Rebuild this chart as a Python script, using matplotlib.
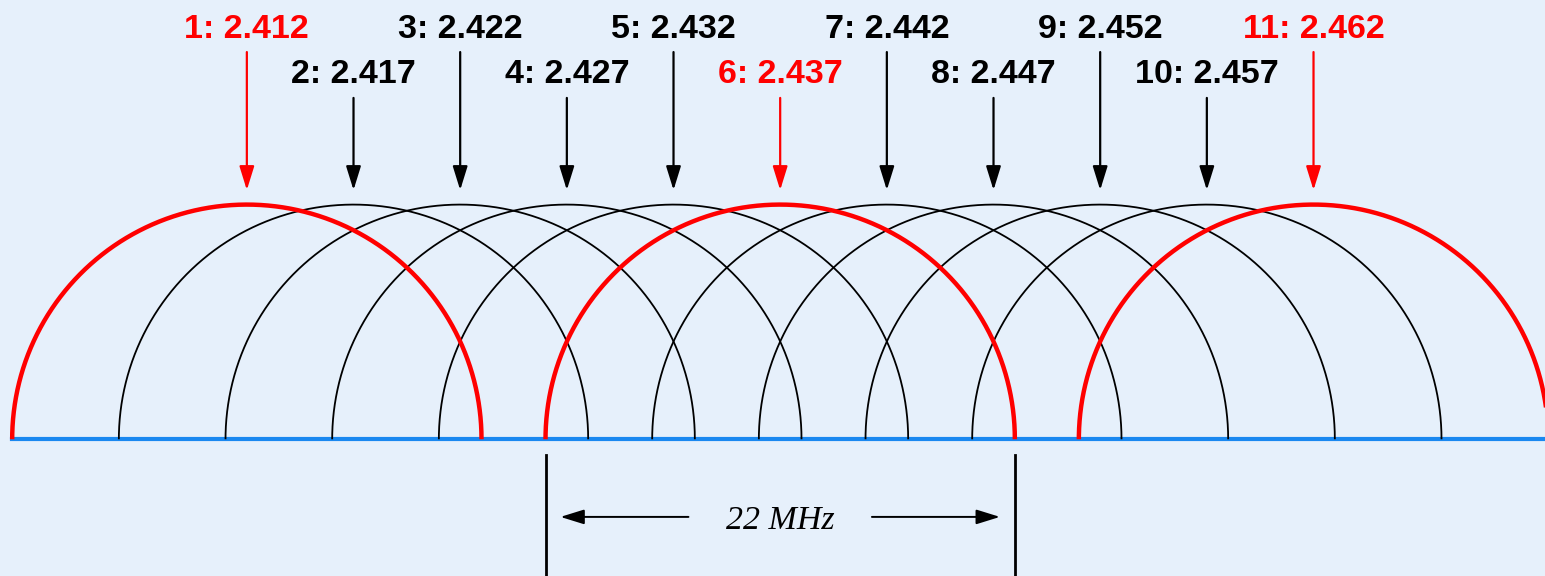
import numpy as np
import matplotlib
matplotlib.use("Agg")
import matplotlib.pyplot as plt

# 2.4 GHz wifi channels (MHz)
channels = [1, 2, 3, 4, 5, 6, 7, 8, 9, 10, 11]
centers = [2412, 2417, 2422, 2427, 2432, 2437, 2442, 2447, 2452, 2457, 2462]
labels = ["1: 2.412", "2: 2.417", "3: 2.422", "4: 2.427", "5: 2.432", "6: 2.437",
          "7: 2.442", "8: 2.447", "9: 2.452", "10: 2.457", "11: 2.462"]
highlight = [1, 6, 11]
bandwidth = 22

bg = "#e6f0fb"
fig = plt.figure(figsize=(15.45, 5.76), dpi=100, facecolor=bg)
ax = fig.add_axes([0, 0, 1, 1])
ax.set_facecolor(bg)
ax.set_xlim(2400.44, 2472.84)
ax.set_ylim(-6.41, 20.59)
ax.set_aspect("equal")
ax.axis("off")

r = bandwidth / 2
theta = np.linspace(0, np.pi, 400)
arrow_style = "-|>,head_length=1.45,head_width=0.45"

for ch, c, lab in zip(channels, centers, labels):
    red = ch in highlight
    col = "red" if red else "black"
    ax.plot(c + r * np.cos(theta), r * np.sin(theta), color=col,
            lw=3.2 if red else 1.3, zorder=4 if red else 3,
            solid_capstyle="butt")
    # label + arrow (odd channels on upper row)
    if ch % 2 == 1:
        ty, ay = 18.83, 18.15
    else:
        ty, ay = 16.68, 16.0
    ax.text(c, ty, lab, color=col, fontsize=24.5, fontweight="bold",
            family="Liberation Sans", ha="center", va="baseline")
    ax.annotate("", xy=(c, 11.68), xytext=(c, ay),
                arrowprops=dict(arrowstyle=arrow_style, mutation_scale=10,
                                color=col, lw=1.6, shrinkA=0, shrinkB=0))

# baseline
ax.plot([centers[0] - r, 2473], [0, 0], color="#1a88f0", lw=3, zorder=2)

# 22 MHz dimension
mid = centers[5]
lo, hi = mid - r, mid + r
ax.plot([lo, lo], [-0.74, -7], color="black", lw=2)
ax.plot([hi, hi], [-0.74, -7], color="black", lw=2)
dy = -3.64
ax.annotate("", xy=(lo + 0.7, dy), xytext=(mid - 4.3, dy),
            arrowprops=dict(arrowstyle=arrow_style, mutation_scale=10,
                            color="black", lw=1.4, shrinkA=0, shrinkB=0))
ax.annotate("", xy=(hi - 0.7, dy), xytext=(mid + 4.3, dy),
            arrowprops=dict(arrowstyle=arrow_style, mutation_scale=10,
                            color="black", lw=1.4, shrinkA=0, shrinkB=0))
ax.text(mid, -4.2, "22 MHz", fontsize=24.5, style="italic", family="Liberation Serif",
        ha="center", va="baseline")

fig.savefig("out.png", dpi=100, facecolor=bg)
